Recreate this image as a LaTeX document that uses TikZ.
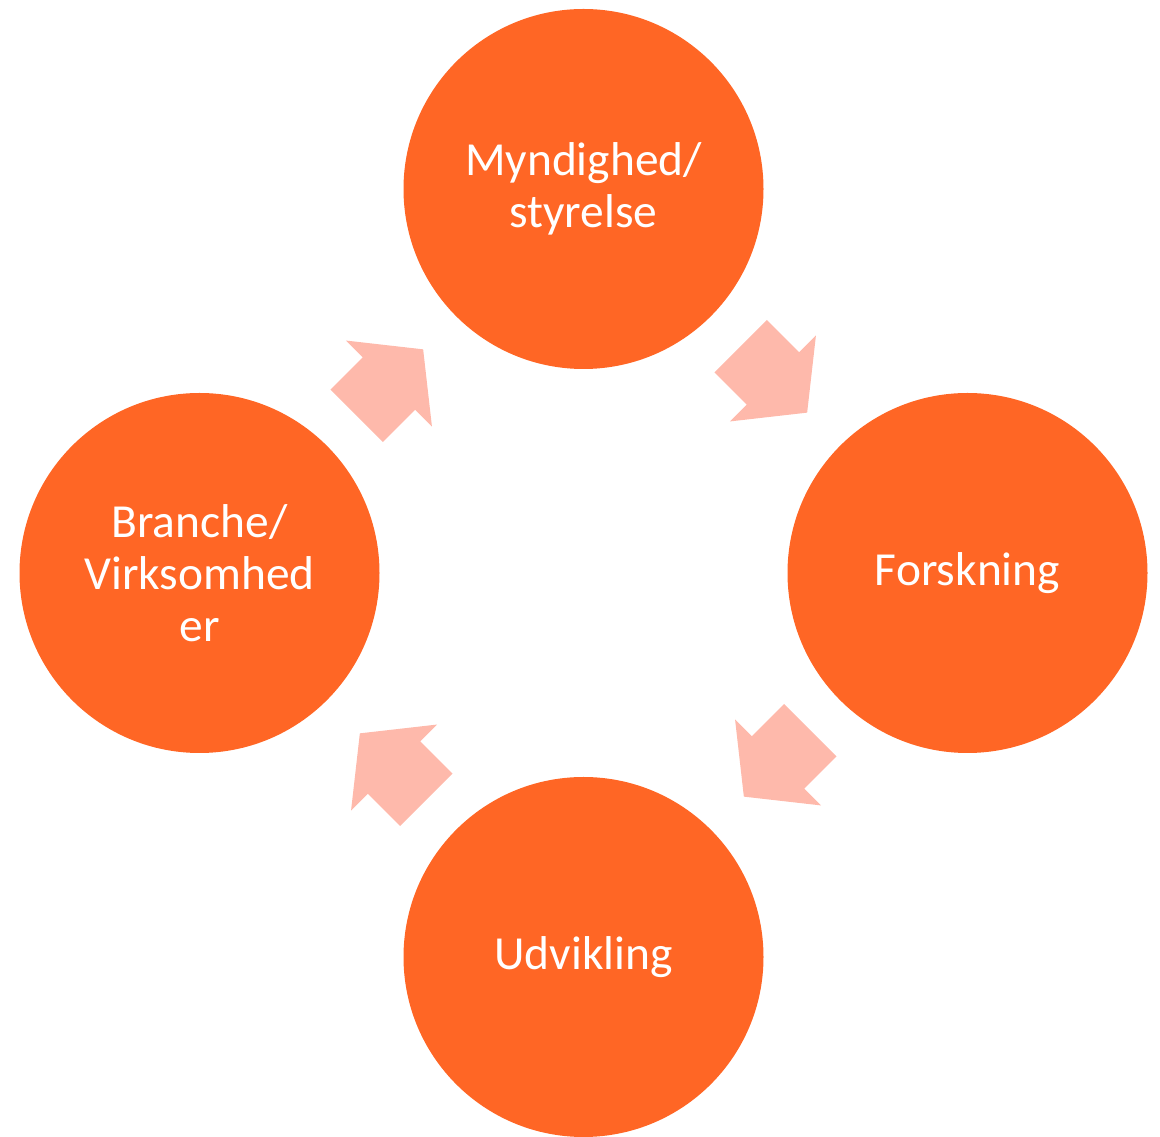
\documentclass[tikz,border=0pt]{standalone}
\usepackage{fontspec}
\setmainfont{Carlito}
\usepackage{tikz}
\usetikzlibrary{positioning,calc,shapes.arrows}
\definecolor{cycleorange}{RGB}{255,102,37}
\definecolor{cyclepink}{RGB}{254,185,171}

\begin{document}
\begin{tikzpicture}[node distance=7.68cm and 7.68cm,on grid]
  \tikzstyle{every node}=[font=\fontsize{27}{29.6}\selectfont]
  \tikzstyle{actor}=[circle,fill=cycleorange,text=white,minimum size=7.2cm,
                     inner sep=0pt,align=center]
  \tikzstyle{flow}=[single arrow,fill=cyclepink,draw=none,inner sep=0pt,
                    inner ysep=0.735cm,minimum height=1.88cm,
                    single arrow head extend=0.475cm,single arrow tip angle=103]

  \useasboundingbox (0,0) rectangle (23.2,22.74);

  \node[actor] (M) at (11.67,18.96)        {Myndighed/\\styrelse};
  \node[actor] (F) [below right=of M]      {Forskning};
  \node[actor] (U) [below left=of F]       {Udvikling};
  \node[actor] (B) [above left=of U]       {Branche/\\Virksomhed\\er};

  % arrows between the circles
  \node[flow,rotate=-45]  (MF) at ($(M)!.5!(F)+(135:0.34)$)  {};
  \node[flow,rotate=-135] (FU) at ($(F)!.5!(U)+(45:0.34)$)   {};
  \node[flow,rotate=135]  (UB) at ($(U)!.5!(B)+(-45:0.34)$)  {};
  \node[flow,rotate=45]   (BM) at ($(B)!.5!(M)+(-135:0.34)$) {};
\end{tikzpicture}
\end{document}
